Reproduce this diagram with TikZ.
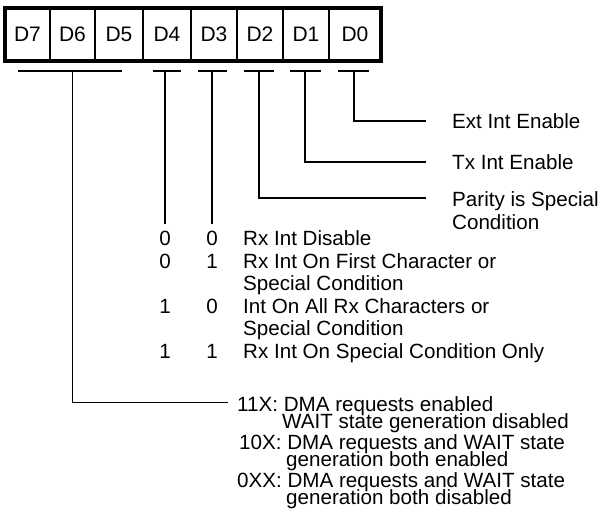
\documentclass[tikz,border=0pt]{standalone}
\usepackage{fontspec}
\setmainfont{Liberation Sans}
\usepackage{tikz}
\usetikzlibrary{positioning,calc}

\begin{document}
\begin{tikzpicture}[x=1pt,y=-1pt,node distance=0pt,
    bitcell/.style={rectangle,draw,line width=1.4pt,minimum height=53pt,
                    inner sep=0pt,outer sep=0pt,font=\fontsize{21}{21}\selectfont},
    txt/.style={anchor=base west,inner sep=0pt,font=\fontsize{20.6}{20.6}\selectfont},
    num/.style={anchor=base,inner sep=0pt,font=\fontsize{20.6}{20.6}\selectfont},
    line/.style={draw,line width=1.6pt}]
    \useasboundingbox (0,0) rectangle (601,511);
    % register
    \node[bitcell,minimum width=45pt,anchor=north west](d7) at (5,8){D7};
    \node[bitcell,minimum width=45pt,right=of d7](d6){D6};
    \node[bitcell,minimum width=48pt,right=of d6](d5){D5};
    \node[bitcell,minimum width=48pt,right=of d5](d4){D4};
    \node[bitcell,minimum width=46pt,right=of d4](d3){D3};
    \node[bitcell,minimum width=46pt,right=of d3](d2){D2};
    \node[bitcell,minimum width=46pt,right=of d2](d1){D1};
    \node[bitcell,minimum width=52pt,right=of d1](d0){D0};
    \draw[line width=3.8pt](d7.north west) rectangle (d0.south east);
    % brackets
    \coordinate (b7) at ($(d6.south)+(0,10)$);
    \coordinate (b4) at ($(d4.south)+(-2,10)$);
    \coordinate (b3) at ($(d3.south)+(-2,10)$);
    \coordinate (b2) at ($(d2.south)+(-1,10)$);
    \coordinate (b1) at ($(d1.south)+(-1,10)$);
    \coordinate (b0) at ($(d0.south)+(-1,10)$);
    \draw[line]($(d7.south west)+(13,10)$)--($(d5.south east)+(-21,10)$);
    \draw[line]($(b4)+(-12,0)$)--($(b4)+(16,0)$);
    \draw[line]($(b3)+(-14,0)$)--($(b3)+(15,0)$);
    \draw[line]($(b2)+(-15,0)$)--($(b2)+(15,0)$);
    \draw[line]($(b1)+(-15,0)$)--($(b1)+(16,0)$);
    \draw[line]($(b0)+(-16,0)$)--($(b0)+(15,0)$);
    % single bit labels
    \node[txt](ext) at (452,128.5){Ext Int Enable};
    \node[txt](tx) at (452,169.5){Tx Int Enable};
    \node[txt](par) at (452,206.5){Parity is Special};
    \node[txt,below=22.5pt of par.base west,anchor=base west](cond){Condition};
    \draw[line,shorten >=26pt](b0)|-(ext.west);
    \draw[line,shorten >=26pt](b1)|-(tx.west);
    \draw[line,shorten >=26pt](b2)|-([yshift=3pt]par.west);
    % receive interrupt modes
    \node[txt](r1) at (243,245.5){Rx Int Disable};
    \node[txt,below=22.5pt of r1.base west,anchor=base west](r2){Rx Int On First Character or};
    \node[txt,below=22.5pt of r2.base west,anchor=base west](r3){Special Condition};
    \node[txt,below=22.5pt of r3.base west,anchor=base west](r4){Int On All Rx Characters or};
    \node[txt,below=22.5pt of r4.base west,anchor=base west](r5){Special Condition};
    \node[txt,below=22.5pt of r5.base west,anchor=base west](r6){Rx Int On Special Condition Only};
    \node[num] at (b4 |- r1.base){0};
    \node[num] at (b3 |- r1.base){0};
    \node[num] at (b4 |- r2.base){0};
    \node[num] at (b3 |- r2.base){1};
    \node[num] at (b4 |- r4.base){1};
    \node[num] at (b3 |- r4.base){0};
    \node[num] at (b4 |- r6.base){1};
    \node[num] at (b3 |- r6.base){1};
    \draw[line](b4)--($(b4 |- r1.north)+(0,-6)$);
    \draw[line](b3)--($(b3 |- r1.north)+(0,-6)$);
    % DMA / WAIT modes
    \node[txt](dma1) at (237,411){11X: DMA requests enabled};
    \node[txt,below right=17.5pt and 45pt of dma1.base west,anchor=base west](dma1b){WAIT state generation disabled};
    \node[txt,below left=20.5pt and 43pt of dma1b.base west,anchor=base west](dma2){10X: DMA requests and WAIT state};
    \node[txt,below right=17.5pt and 47pt of dma2.base west,anchor=base west](dma2b){generation both enabled};
    \node[txt,below left=20.5pt and 49pt of dma2b.base west,anchor=base west](dma3){0XX: DMA requests and WAIT state};
    \node[txt,below right=17.5pt and 49pt of dma3.base west,anchor=base west](dma3b){generation both disabled};
    \draw[line,shorten >=9pt](b7)|-([yshift=3pt]dma1.west);
\end{tikzpicture}
\end{document}
